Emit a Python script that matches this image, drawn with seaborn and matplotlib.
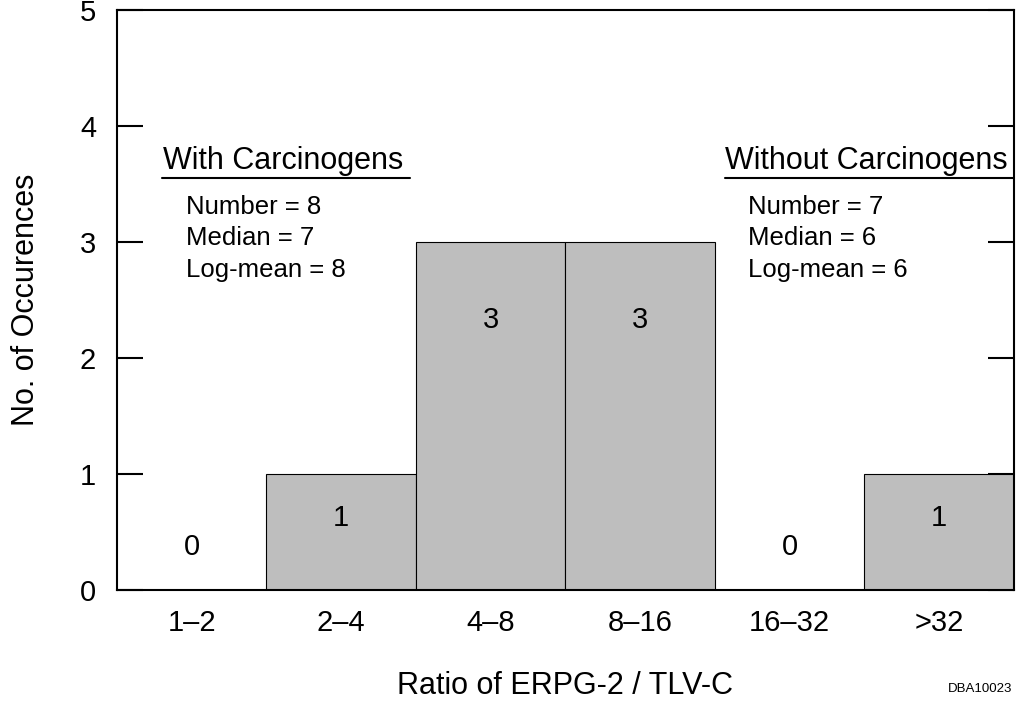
import numpy as np
import pandas as pd
import matplotlib
matplotlib.use("Agg")
import matplotlib.pyplot as plt
import seaborn as sns

# dados
ratio_bins = ["1\u20132", "2\u20134", "4\u20138", "8\u201316", "16\u201332", ">32"]
occurrences = [0, 1, 3, 3, 0, 1]
label_heights = [0.37, 0.62, 2.33, 2.33, 0.37, 0.62]

with_carc = ["Number = 8", "Median = 7", "Log-mean = 8"]
without_carc = ["Number = 7", "Median = 6", "Log-mean = 6"]

sns.set_style("white")
plt.rcParams['font.family'] = ['Liberation Sans', 'DejaVu Sans']
plt.rcParams['text.color'] = 'black'
plt.rcParams['axes.labelcolor'] = 'black'
plt.rcParams['xtick.color'] = 'black'
plt.rcParams['ytick.color'] = 'black'

df = pd.DataFrame({'ratio': ratio_bins, 'n': occurrences})

fig = plt.figure(figsize=(10.17, 7.03), dpi=100)
ax = fig.add_axes([0.115, 0.161, 0.882, 0.825])

sns.barplot(data=df, x='ratio', y='n', order=ratio_bins, width=1.0,
            color='#bebebe', saturation=1, edgecolor='black', linewidth=0.8, ax=ax)

ax.set_xlim(-0.5, 5.5)
ax.set_ylim(0, 5)
ax.set_yticks(range(6))
ax.tick_params(axis='y', direction='in', length=19, width=1.5, labelsize=21, pad=15,
               right=True, left=True)
ax.tick_params(axis='x', length=0, labelsize=21, pad=14)
for s in ax.spines.values():
    s.set_linewidth(1.5)
    s.set_color('black')

ax.set_xlabel('Ratio of ERPG-2 / TLV-C', fontsize=22, labelpad=24)
ax.set_ylabel('No. of Occurences', fontsize=22, labelpad=28)

# rótulos das barras
for i, (v, h) in enumerate(zip(occurrences, label_heights)):
    ax.text(i, h, str(v), ha='center', va='center', fontsize=21)

# blocos de estatísticas
ax.text(-0.19, 3.63, 'With Carcinogens', fontsize=22, ha='left', va='baseline')
ax.plot([-0.2, 1.46], [3.55, 3.55], color='black', lw=1.5)
for k, t in enumerate(with_carc):
    ax.text(-0.04, 3.24 - 0.27 * k, t, fontsize=18.5, ha='left', va='baseline')

ax.text(3.57, 3.63, 'Without Carcinogens', fontsize=22, ha='left', va='baseline')
ax.plot([3.57, 5.99], [3.55, 3.55], color='black', lw=1.5)
for k, t in enumerate(without_carc):
    ax.text(3.72, 3.24 - 0.27 * k, t, fontsize=18.5, ha='left', va='baseline')

fig.text(0.995, 0.012, 'DBA10023', fontsize=9.5, ha='right', va='bottom')

plt.savefig('out.png', dpi=100)
